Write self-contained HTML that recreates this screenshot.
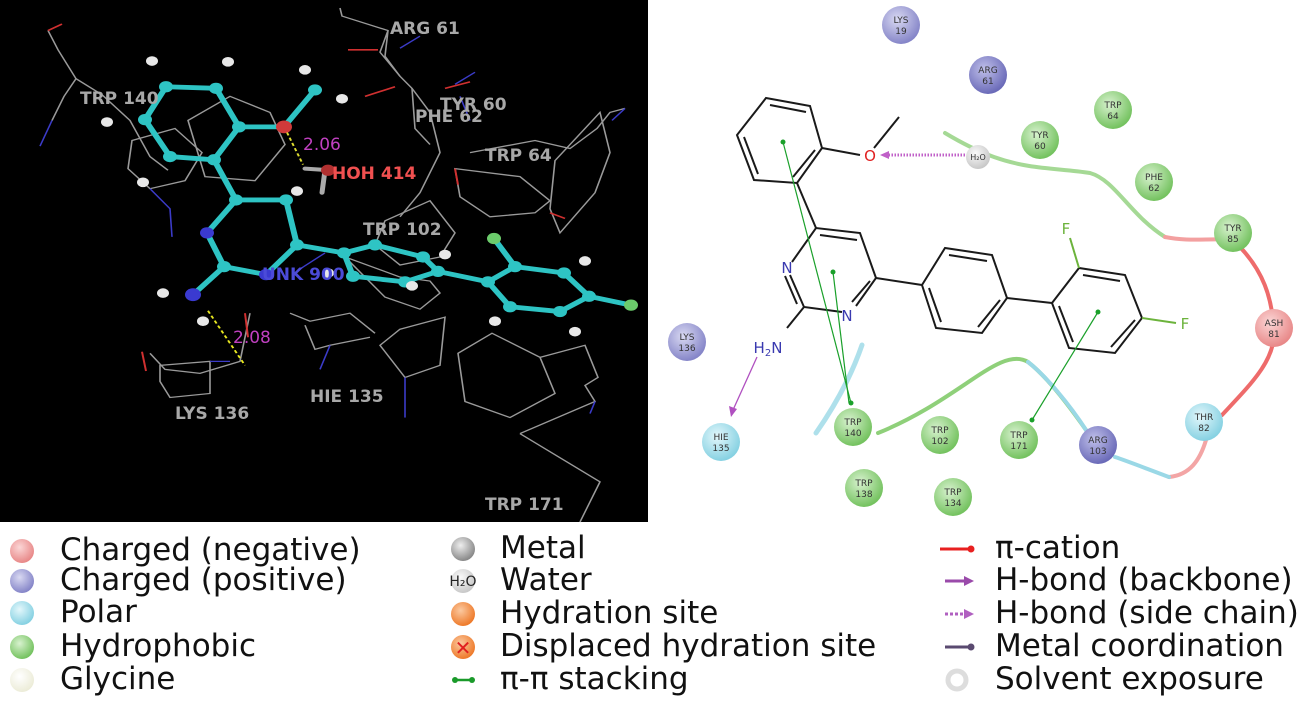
<!DOCTYPE html>
<html><head><meta charset="utf-8"><style>
html,body{margin:0;padding:0;background:#fff;width:1300px;height:704px;overflow:hidden}
svg{display:block}
.lbl{font-family:"DejaVu Sans","Liberation Sans",sans-serif;font-weight:bold;font-size:17px;fill:#a8a8a8}
.res{font-family:"DejaVu Sans","Liberation Sans",sans-serif;font-size:9px;fill:#333;text-anchor:middle}
.at{font-family:"DejaVu Sans","Liberation Sans",sans-serif;font-size:15px;text-anchor:middle}
.lg{font-family:"DejaVu Sans","Liberation Sans",sans-serif;font-size:31px;fill:#111}
</style></head><body>
<svg width="1300" height="704" viewBox="0 0 1300 704" xmlns="http://www.w3.org/2000/svg">
<defs>
<radialGradient id="gG" cx="40%" cy="35%" r="65%"><stop offset="0" stop-color="#d8f2cf"/><stop offset="1" stop-color="#74c25f"/></radialGradient>
<radialGradient id="gP" cx="40%" cy="35%" r="65%"><stop offset="0" stop-color="#d9d9f2"/><stop offset="1" stop-color="#8585c8"/></radialGradient>
<radialGradient id="gP2" cx="40%" cy="35%" r="65%"><stop offset="0" stop-color="#c0c0ea"/><stop offset="1" stop-color="#6a6ab8"/></radialGradient>
<radialGradient id="gC" cx="40%" cy="35%" r="65%"><stop offset="0" stop-color="#e3f7fb"/><stop offset="1" stop-color="#86d1e2"/></radialGradient>
<radialGradient id="gR" cx="40%" cy="35%" r="65%"><stop offset="0" stop-color="#fbd6d6"/><stop offset="1" stop-color="#e88888"/></radialGradient>
<radialGradient id="gW" cx="40%" cy="35%" r="65%"><stop offset="0" stop-color="#fafafa"/><stop offset="1" stop-color="#c8c8c8"/></radialGradient>
<radialGradient id="gM" cx="40%" cy="35%" r="65%"><stop offset="0" stop-color="#eee"/><stop offset="1" stop-color="#888"/></radialGradient>
<radialGradient id="gO" cx="40%" cy="35%" r="65%"><stop offset="0" stop-color="#fbc9a0"/><stop offset="1" stop-color="#ee7a2a"/></radialGradient>
<radialGradient id="gY" cx="40%" cy="35%" r="65%"><stop offset="0" stop-color="#ffffff"/><stop offset="1" stop-color="#ececd8"/></radialGradient>
</defs>

<!-- LEFT 3D PANEL -->
<rect x="0" y="0" width="648" height="522" fill="#000"/>
<g transform="scale(1,0.803)">
<g fill="none" stroke="#9a9a9a" stroke-width="1.6">
<polyline points="48,38 58,62 76,98 64,120 52,150"/>
<polyline points="76,98 102,118 130,150 150,195 168,212"/>
<polygon points="132,175 175,160 202,190 185,225 150,235 128,210"/>
<polygon points="188,150 230,120 270,140 285,180 255,225 205,220"/>
<polyline points="340,10 342,20 388,38 385,70 400,95"/>
<polyline points="388,38 380,65 400,95 412,110 430,140 440,190 420,240 400,270"/>
<polyline points="412,110 415,160 430,180"/>
<polygon points="385,275 430,250 455,290 440,320 400,330 375,305"/>
<polygon points="455,210 520,220 550,250 535,265 490,270 460,245"/>
<polygon points="555,200 600,140 610,190 595,240 560,290 550,260"/>
<polyline points="470,190 535,175 570,185 597,160 610,140 625,135"/>
<polygon points="345,320 385,370 420,385 440,365 430,350 400,345"/>
<polyline points="290,390 310,400 350,390 375,415"/>
<polygon points="400,410 445,395 440,455 405,470 380,430"/>
<polygon points="458,440 492,415 540,445 555,490 510,520 465,500"/>
<polyline points="540,445 585,430 598,470 585,480 595,500 520,540"/>
<polyline points="250,390 240,450 200,465 165,460 150,440"/>
<polygon points="160,455 210,450 210,490 170,495 160,475"/>
<polyline points="305,405 315,435 330,430 370,420"/>
<polyline points="520,540 600,600 580,650"/>
</g>
<g fill="none" stroke="#3b3bc8" stroke-width="1.6">
<polyline points="52,150 40,182"/><polyline points="150,235 170,260 172,295"/>
<polyline points="400,60 420,45"/><polyline points="455,105 475,90"/>
<polyline points="460,120 470,150"/><polyline points="405,470 405,520"/>
<polyline points="612,150 625,135"/><polyline points="330,430 320,460"/>
<polyline points="595,500 590,515"/><polyline points="210,450 230,450"/>
<polyline points="300,335 325,315"/>
</g>
<g fill="none" stroke="#d03030" stroke-width="2">
<polyline points="48,38 62,30"/><polyline points="348,62 378,62"/>
<polyline points="365,120 395,108"/><polyline points="445,110 470,102"/>
<polyline points="245,390 248,420"/><polyline points="455,210 458,230"/>
<polyline points="142,438 146,462"/><polyline points="550,265 565,272"/>
</g>
<g stroke="#2ec4c4" stroke-width="6" fill="none" stroke-linecap="round" stroke-linejoin="round">
<polygon points="166,108 216,110 239,158 214,199 170,195 145,149"/>
<polyline points="239,158 284,158 315,112"/>
<polyline points="214,199 236,249"/>
<polygon points="236,249 286,249 297,305 266,342 224,332 207,290"/>
<polyline points="224,332 193,367"/>
<polyline points="297,305 344,315 375,305 423,320 438,338 405,351 353,344 344,315"/>
<polyline points="438,338 488,351"/>
<polygon points="488,351 515,332 564,340 589,369 560,388 510,382"/>
<polyline points="515,332 494,297"/><polyline points="589,369 631,380"/>
</g>
<g fill="#2ec4c4">
<circle cx="166" cy="108" r="7"/><circle cx="216" cy="110" r="7"/><circle cx="239" cy="158" r="7"/><circle cx="214" cy="199" r="7"/><circle cx="170" cy="195" r="7"/><circle cx="145" cy="149" r="7"/>
<circle cx="236" cy="249" r="7"/><circle cx="286" cy="249" r="7"/><circle cx="297" cy="305" r="7"/><circle cx="224" cy="332" r="7"/>
<circle cx="344" cy="315" r="7"/><circle cx="375" cy="305" r="7"/><circle cx="423" cy="320" r="7"/><circle cx="438" cy="338" r="7"/><circle cx="405" cy="351" r="7"/><circle cx="353" cy="344" r="7"/>
<circle cx="488" cy="351" r="7"/><circle cx="515" cy="332" r="7"/><circle cx="564" cy="340" r="7"/><circle cx="589" cy="369" r="7"/><circle cx="560" cy="388" r="7"/><circle cx="510" cy="382" r="7"/>
<circle cx="315" cy="112" r="7"/>
</g>
<g fill="#3a3ad0"><circle cx="207" cy="290" r="7"/><circle cx="266" cy="342" r="7"/><circle cx="193" cy="367" r="8"/></g>
<circle cx="284" cy="158" r="8" fill="#d03a3a"/>
<g fill="#6ccc6c"><circle cx="494" cy="297" r="7"/><circle cx="631" cy="380" r="7"/></g>
<g fill="#e8e8e8">
<circle cx="152" cy="76" r="6"/><circle cx="228" cy="77" r="6"/><circle cx="107" cy="152" r="6"/><circle cx="143" cy="227" r="6"/>
<circle cx="305" cy="87" r="6"/><circle cx="342" cy="123" r="6"/><circle cx="297" cy="238" r="6"/>
<circle cx="163" cy="365" r="6"/><circle cx="203" cy="400" r="6"/><circle cx="328" cy="340" r="6"/><circle cx="412" cy="356" r="6"/><circle cx="445" cy="317" r="6"/>
<circle cx="585" cy="325" r="6"/><circle cx="495" cy="400" r="6"/><circle cx="575" cy="413" r="6"/>
</g>
<g stroke="#aaa" stroke-width="5" stroke-linecap="round"><line x1="305" y1="210" x2="330" y2="212"/><line x1="325" y1="212" x2="322" y2="240"/></g>
<circle cx="328" cy="212" r="7" fill="#b03030"/>
<line x1="287" y1="165" x2="303" y2="205" stroke="#dddd30" stroke-width="2" stroke-dasharray="4,3"/>
<line x1="208" y1="387" x2="245" y2="455" stroke="#e8e820" stroke-width="2" stroke-dasharray="4,3"/>
</g>
<text class="lbl" x="80" y="104">TRP  140</text>
<text class="lbl" x="390" y="34">ARG  61</text>
<text class="lbl" x="440" y="110">TYR  60</text>
<text class="lbl" x="415" y="122">PHE  62</text>
<text class="lbl" x="485" y="161">TRP  64</text>
<text class="lbl" x="332" y="179" style="fill:#f05050">HOH  414</text>
<text class="lbl" x="363" y="235">TRP  102</text>
<text class="lbl" x="262" y="280" style="fill:#4b4bd8">UNK  900</text>
<text class="lbl" x="175" y="419">LYS  136</text>
<text class="lbl" x="310" y="402">HIE  135</text>
<text class="lbl" x="485" y="510">TRP  171</text>
<text x="303" y="150" style="font-family:'DejaVu Sans',sans-serif;font-size:17px;fill:#c040c0">2.06</text>
<text x="233" y="343" style="font-family:'DejaVu Sans',sans-serif;font-size:17px;fill:#c040c0">2.08</text>

<!-- RIGHT 2D DIAGRAM -->
<g fill="none" stroke-linecap="round">
<path d="M945,133 C965,145 980,152 994,157 C1030,170 1060,168 1090,173 C1115,180 1130,215 1165,237" stroke="#8fd07a" stroke-width="4" opacity="0.8"/>
<path d="M1165,237 C1190,242 1210,238 1230,240" stroke="#f3a0a0" stroke-width="4"/>
<path d="M1233,240 C1265,270 1272,300 1274,330 C1276,360 1250,385 1222,415" stroke="#ee6b6b" stroke-width="4"/>
<path d="M1206,440 C1200,460 1190,475 1169,477" stroke="#f3a5a5" stroke-width="4"/>
<path d="M1169,477 C1150,470 1130,462 1115,457" stroke="#9ad8e6" stroke-width="4"/>
<path d="M1086,430 C1065,400 1045,375 1028,362 C1000,345 960,400 878,433" stroke="#8fd07a" stroke-width="4"/>
<path d="M1086,430 C1070,405 1045,375 1028,362" stroke="#9ad8e6" stroke-width="4"/>
<path d="M862,345 C850,380 832,410 816,433" stroke="#9ad8e6" stroke-width="5" opacity="0.8"/>
</g>
<g stroke="#1a1a1a" stroke-width="2" fill="none">
<polygon points="766,98 810,106 822,148 797,183 754,180 737,135"/>
<line x1="770" y1="105" x2="806" y2="112"/><line x1="815" y1="150" x2="793" y2="177"/><line x1="744" y1="137" x2="758" y2="174"/>
<line x1="822" y1="148" x2="860" y2="155"/><line x1="874" y1="148" x2="899" y2="117"/>
<line x1="797" y1="183" x2="816" y2="228"/>
<polyline points="792,262 816,228 860,233 876,278 856,306"/>
<line x1="820" y1="235" x2="857" y2="240"/>
<line x1="870" y1="281" x2="852" y2="302"/>
<polyline points="842,312 804,307 790,275"/><line x1="797" y1="304" x2="785" y2="276"/>
<line x1="804" y1="307" x2="787" y2="328"/>
<line x1="876" y1="278" x2="922" y2="285"/>
<polygon points="922,285 945,248 992,255 1007,298 982,333 936,328"/>
<line x1="949" y1="255" x2="987" y2="261"/><line x1="1000" y1="300" x2="978" y2="327"/><line x1="929" y1="288" x2="941" y2="322"/>
<line x1="1007" y1="298" x2="1052" y2="303"/>
<polygon points="1052,303 1079,268 1125,275 1142,318 1115,353 1069,348"/>
<line x1="1083" y1="275" x2="1120" y2="281"/><line x1="1135" y1="320" x2="1111" y2="347"/><line x1="1059" y1="306" x2="1073" y2="342"/>
</g>
<g stroke="#6cb33c" stroke-width="2"><line x1="1079" y1="268" x2="1070" y2="238"/><line x1="1142" y1="318" x2="1176" y2="323"/></g>
<text class="at" x="1066" y="234" fill="#6cb33c">F</text>
<text class="at" x="1185" y="329" fill="#6cb33c">F</text>
<text class="at" x="870" y="161" fill="#e02020">O</text>
<text class="at" x="787" y="273" fill="#3a3ab0">N</text>
<text class="at" x="847" y="321" fill="#3a3ab0">N</text>
<text class="at" x="768" y="353" fill="#3a3ab0">H<tspan font-size="10" dy="3">2</tspan><tspan dy="-3">N</tspan></text>
<g stroke="#1aa02a" stroke-width="1.2">
<line x1="783" y1="142" x2="851" y2="403"/><line x1="833" y1="272" x2="849" y2="403"/><line x1="1098" y1="312" x2="1032" y2="420"/>
</g>
<g fill="#1aa02a"><circle cx="783" cy="142" r="2.5"/><circle cx="833" cy="272" r="2.5"/><circle cx="851" cy="403" r="2.5"/><circle cx="1098" cy="312" r="2.5"/><circle cx="1032" cy="420" r="2.5"/></g>
<line x1="757" y1="357" x2="733" y2="410" stroke="#b050c0" stroke-width="1.3"/>
<polygon points="731,417 729,406 737,409" fill="#b050c0"/>
<line x1="965" y1="155" x2="886" y2="155" stroke="#c060c8" stroke-width="3" stroke-dasharray="1.5,1.5"/>
<polygon points="880,155 889,151 889,159" fill="#c060c8"/>
<g>
<circle cx="978" cy="157" r="12" fill="url(#gW)"/><text class="res" x="978" y="160" style="font-size:8px">H₂O</text>
<circle cx="901" cy="25" r="19" fill="url(#gP)"/><text class="res" x="901" y="23">LYS</text><text class="res" x="901" y="34">19</text>
<circle cx="988" cy="75" r="19" fill="url(#gP2)"/><text class="res" x="988" y="73">ARG</text><text class="res" x="988" y="84">61</text>
<circle cx="1113" cy="110" r="19" fill="url(#gG)"/><text class="res" x="1113" y="108">TRP</text><text class="res" x="1113" y="119">64</text>
<circle cx="1040" cy="140" r="19" fill="url(#gG)"/><text class="res" x="1040" y="138">TYR</text><text class="res" x="1040" y="149">60</text>
<circle cx="1154" cy="182" r="19" fill="url(#gG)"/><text class="res" x="1154" y="180">PHE</text><text class="res" x="1154" y="191">62</text>
<circle cx="1233" cy="233" r="19" fill="url(#gG)"/><text class="res" x="1233" y="231">TYR</text><text class="res" x="1233" y="242">85</text>
<circle cx="1274" cy="328" r="19" fill="url(#gR)"/><text class="res" x="1274" y="326">ASH</text><text class="res" x="1274" y="337">81</text>
<circle cx="1204" cy="422" r="19" fill="url(#gC)"/><text class="res" x="1204" y="420">THR</text><text class="res" x="1204" y="431">82</text>
<circle cx="1098" cy="445" r="19" fill="url(#gP2)"/><text class="res" x="1098" y="443">ARG</text><text class="res" x="1098" y="454">103</text>
<circle cx="1019" cy="440" r="19" fill="url(#gG)"/><text class="res" x="1019" y="438">TRP</text><text class="res" x="1019" y="449">171</text>
<circle cx="940" cy="435" r="19" fill="url(#gG)"/><text class="res" x="940" y="433">TRP</text><text class="res" x="940" y="444">102</text>
<circle cx="853" cy="427" r="19" fill="url(#gG)"/><text class="res" x="853" y="425">TRP</text><text class="res" x="853" y="436">140</text>
<circle cx="864" cy="488" r="19" fill="url(#gG)"/><text class="res" x="864" y="486">TRP</text><text class="res" x="864" y="497">138</text>
<circle cx="953" cy="497" r="19" fill="url(#gG)"/><text class="res" x="953" y="495">TRP</text><text class="res" x="953" y="506">134</text>
<circle cx="721" cy="442" r="19" fill="url(#gC)"/><text class="res" x="721" y="440">HIE</text><text class="res" x="721" y="451">135</text>
<circle cx="687" cy="342" r="19" fill="url(#gP)"/><text class="res" x="687" y="340">LYS</text><text class="res" x="687" y="351">136</text>
</g>

<!-- LEGEND -->
<circle cx="22" cy="551" r="12" fill="url(#gR)"/><text class="lg" x="60" y="560">Charged (negative)</text>
<circle cx="22" cy="581" r="12" fill="url(#gP)"/><text class="lg" x="60" y="590">Charged (positive)</text>
<circle cx="22" cy="613" r="12" fill="url(#gC)"/><text class="lg" x="60" y="622">Polar</text>
<circle cx="22" cy="647" r="12" fill="url(#gG)"/><text class="lg" x="60" y="656">Hydrophobic</text>
<circle cx="22" cy="680" r="12" fill="url(#gY)"/><text class="lg" x="60" y="689">Glycine</text>

<circle cx="463" cy="549" r="12" fill="url(#gM)"/><text class="lg" x="500" y="558">Metal</text>
<circle cx="463" cy="581" r="12" fill="url(#gW)"/><text x="463" y="586" style="font-family:'DejaVu Sans',sans-serif;font-size:14px;fill:#222;text-anchor:middle">H₂O</text><text class="lg" x="500" y="590">Water</text>
<circle cx="463" cy="614" r="12" fill="url(#gO)"/><text class="lg" x="500" y="623">Hydration site</text>
<circle cx="463" cy="647" r="12" fill="url(#gO)"/><text x="463" y="655" style="font-family:'DejaVu Sans',sans-serif;font-size:20px;fill:#e02020;text-anchor:middle;font-weight:bold">✕</text><text class="lg" x="500" y="656">Displaced hydration site</text>
<line x1="470" y1="680" x2="455" y2="680" stroke="#1a9a2a" stroke-width="2.5"/><circle cx="455" cy="680" r="3" fill="#1a9a2a"/><circle cx="472" cy="680" r="3" fill="#1a9a2a"/><text class="lg" x="500" y="689">π-π stacking</text>

<line x1="940" y1="549" x2="970" y2="549" stroke="#e82020" stroke-width="3"/><circle cx="971" cy="549" r="3.5" fill="#e82020"/><text class="lg" x="995" y="558">π-cation</text>
<line x1="945" y1="581" x2="966" y2="581" stroke="#9a4aaa" stroke-width="3"/><polygon points="974,581 964,576 964,586" fill="#9a4aaa"/><text class="lg" x="995" y="590">H-bond (backbone)</text>
<line x1="945" y1="614" x2="964" y2="614" stroke="#b060c0" stroke-width="3" stroke-dasharray="3,2"/><polygon points="974,614 964,609 964,619" fill="#b060c0"/><text class="lg" x="995" y="623">H-bond (side chain)</text>
<line x1="945" y1="647" x2="970" y2="647" stroke="#5a4a70" stroke-width="3"/><circle cx="971" cy="647" r="3.5" fill="#5a4a70"/><text class="lg" x="995" y="656">Metal coordination</text>
<circle cx="957" cy="680" r="9" fill="none" stroke="#ddd" stroke-width="5"/><text class="lg" x="995" y="689">Solvent exposure</text>
</svg>
</body></html>
